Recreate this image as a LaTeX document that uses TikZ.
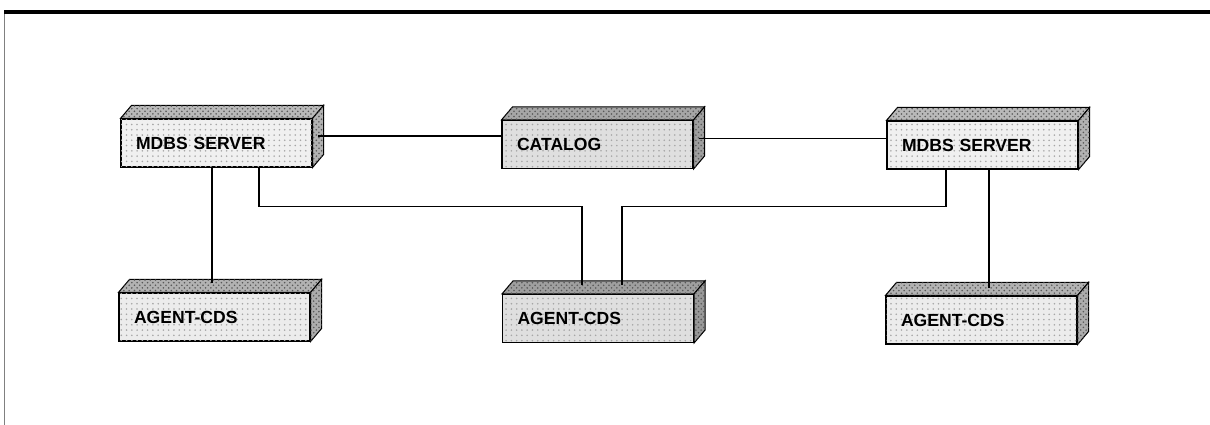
\documentclass[tikz,border=0pt]{standalone}
\usepackage{fontspec}
\setmainfont{Liberation Sans}
\usetikzlibrary{positioning,patterns}

\begin{document}
\begin{tikzpicture}[
    slab/.style={draw, semithick, minimum width=3.82cm, minimum height=0.96cm, text width=3.22cm, inner xsep=0.3cm, align=left, font=\fontsize{10}{12}\selectfont\bfseries, postaction={pattern=dots, pattern color=gray!70}},
    face/.style={draw, semithick, postaction={pattern=crosshatch dots, pattern color=gray!70!black}},
    link/.style={draw, line width=0.6pt}
]
    \useasboundingbox (0,0) rectangle (24.2,8.5);

    % Page frame
    \draw[gray, line width=0.5pt] (0.09,0) -- (0.09,8.26);
    \draw[line width=2pt] (0.09,8.26) -- (24.2,8.26);

    % Servers and catalog
    \node[slab, fill=gray!12] (srvA) at (4.33,5.64) {MDBS SERVER};
    \node[slab, fill=gray!25] (cat) at (11.95,5.61) {CATALOG};
    \node[slab, fill=gray!12] (srvB) at (19.65,5.60) {MDBS SERVER};

    % Agents
    \node[slab, fill=gray!15] (agA) at (4.29,2.16) {AGENT-CDS};
    \node[slab, fill=gray!25] (agB) at (11.96,2.13) {AGENT-CDS};
    \node[slab, fill=gray!15] (agC) at (19.63,2.10) {AGENT-CDS};

    % Top and side faces of the slabs
    \foreach \n/\t/\s in {srvA/55/60, cat/70/75, srvB/55/60, agA/60/65, agB/75/80, agC/60/65} {
        \draw[face, fill=gray!\t] (\n.north west) -- ++(0.22,0.26) -- ([shift={(0.22,0.26)}]\n.north east) -- (\n.north east) -- cycle;
        \draw[face, fill=gray!\s] (\n.north east) -- ++(0.22,0.26) -- ([shift={(0.22,0.26)}]\n.south east) -- (\n.south east) -- cycle;
    }

    % Attachment points
    \coordinate (srvA-side) at ([shift={(0.11,0.14)}]srvA.east);
    \coordinate (cat-side) at ([shift={(0.11,0.12)}]cat.east);
    \coordinate (agA-top) at ([shift={(-0.05,0.18)}]agA.north);
    \coordinate (agB-topL) at ([shift={(-0.32,0.18)}]agB.north);
    \coordinate (agB-topR) at ([shift={(0.48,0.18)}]agB.north);
    \coordinate (agC-top) at ([shift={(0.15,0.14)}]agC.north);

    % Links
    \draw[link] (srvA-side) -- (srvA-side -| cat.west);
    \draw[link] (cat-side) -- (cat-side -| srvB.west);
    \draw[link] (srvA.south -| agA-top) -- (agA-top);
    \draw[link] ([xshift=0.85cm]srvA.south) -- ++(0,-0.78) -| (agB-topL);
    \draw[link] ([xshift=-0.73cm]srvB.south) -- ++(0,-0.74) -| (agB-topR);
    \draw[link] (srvB.south -| agC-top) -- (agC-top);
\end{tikzpicture}
\end{document}
